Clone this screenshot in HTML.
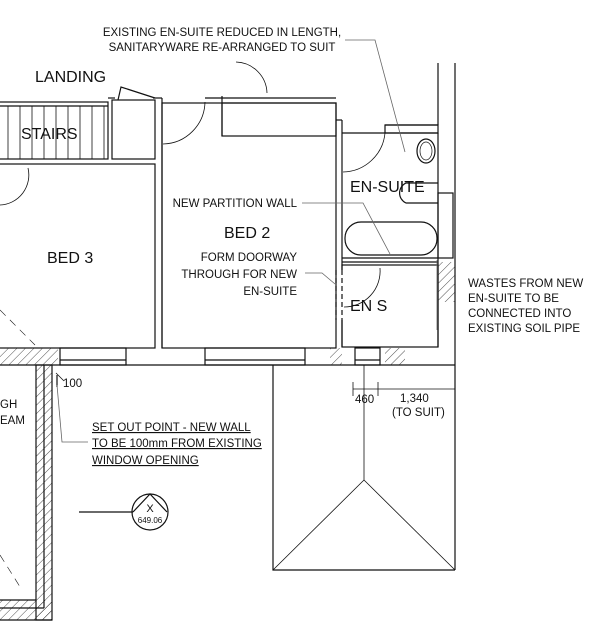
<!DOCTYPE html>
<html><head><style>body{margin:0;background:#fff}svg{display:block}text{font-family:"Liberation Sans",sans-serif;fill:#111}</style></head><body>
<svg width="616" height="631" viewBox="0 0 616 631" xmlns="http://www.w3.org/2000/svg">
<defs><pattern id="h" width="6" height="6" patternUnits="userSpaceOnUse" patternTransform="rotate(45)"><line x1="0" y1="0" x2="0" y2="6" stroke="#222" stroke-width="0.8"/></pattern></defs>
<g fill="none" stroke="#111" stroke-width="1.2">
<!-- main wall -->
<line x1="0" y1="365" x2="455" y2="365"/>
<line x1="455" y1="63" x2="455" y2="570"/>
<line x1="438" y1="63" x2="438" y2="125"/>
<!-- stairs -->
<rect x="-2" y="102" width="110" height="57"/>
<line x1="-2" y1="106" x2="108" y2="106"/>
<g stroke-width="0.8"><line x1="8" y1="106" x2="8" y2="159"/><line x1="20" y1="106" x2="20" y2="159"/><line x1="32" y1="106" x2="32" y2="159"/><line x1="44" y1="106" x2="44" y2="159"/><line x1="56" y1="106" x2="56" y2="159"/><line x1="68" y1="106" x2="68" y2="159"/><line x1="80" y1="106" x2="80" y2="159"/><line x1="92" y1="106" x2="92" y2="159"/><line x1="104" y1="106" x2="104" y2="159"/></g>
<!-- cupboard -->
<rect x="112" y="100" width="43" height="59"/>
<line x1="108" y1="98" x2="115" y2="98"/><line x1="153" y1="98" x2="162" y2="98"/>
<path d="M118 100 L121 87 L155 98"/>
<!-- bed3 -->
<rect x="-2" y="164" width="157" height="184"/>
<path d="M0 205 A30 30 0 0 0 28 168" stroke-width="0.8"/>
<line x1="0" y1="310" x2="35" y2="345" stroke-width="0.6" stroke-dasharray="8 6"/>
<!-- bed2 -->
<line x1="162" y1="98" x2="162" y2="348"/>
<rect x="162" y="103" width="174" height="245"/>
<line x1="205" y1="98" x2="336" y2="98"/>
<rect x="222" y="103" width="114" height="33"/>
<line x1="222" y1="96" x2="222" y2="136"/>
<path d="M163 144 A43 43 0 0 0 205 102" stroke-width="0.8"/>
<path d="M267 93 A32 32 0 0 0 236 62" stroke-width="0.8"/>
<!-- en-suite -->
<line x1="342" y1="120" x2="342" y2="347"/>
<line x1="336" y1="120" x2="342" y2="120"/>
<line x1="385" y1="125" x2="438" y2="125"/>
<rect x="385" y="125" width="53" height="8"/>
<line x1="342" y1="133" x2="438" y2="133"/>
<line x1="438" y1="133" x2="438" y2="347"/>
<path d="M343 172 A43 43 0 0 0 385 133" stroke-width="0.8"/>
<ellipse cx="426" cy="151" rx="9" ry="12"/><ellipse cx="426" cy="151" rx="6" ry="9" stroke-width="0.7"/>
<path d="M438 183 L406 183 A11 11 0 0 0 406 203 L438 203"/>
<rect x="438" y="193" width="15" height="65"/>
<rect x="345" y="222" width="92" height="33" rx="16"/>
<line x1="342" y1="258" x2="438" y2="258"/><line x1="342" y1="262" x2="438" y2="262"/>
<rect x="342" y="265" width="96" height="82"/>
<path d="M344 307 A36 36 0 0 0 380 268" stroke-width="0.8"/>
<line x1="336" y1="270" x2="336" y2="320" stroke-dasharray="5 3"/>
<line x1="342" y1="270" x2="342" y2="320" stroke="#fff" stroke-width="2"/>
<line x1="342" y1="270" x2="342" y2="320" stroke-dasharray="5 3"/>
<!-- windows -->
<rect x="60" y="348" width="66" height="17"/><line x1="60" y1="360" x2="126" y2="360"/>
<rect x="205" y="348" width="100" height="17"/><line x1="205" y1="360" x2="305" y2="360"/>
<rect x="355" y="348" width="25" height="17"/><line x1="355" y1="360" x2="380" y2="360"/>
<rect x="0" y="348" width="58" height="17" fill="url(#h)" stroke="none"/>
<rect x="330" y="348" width="12" height="17" fill="url(#h)" stroke="none"/>
<rect x="438" y="262" width="17" height="40" fill="url(#h)" stroke="none"/>
<rect x="385" y="348" width="20" height="17" fill="url(#h)" stroke="none"/>
<!-- left L wall -->
<rect x="36" y="365" width="16" height="255" fill="url(#h)"/>
<rect x="0" y="600" width="52" height="20" fill="url(#h)" stroke="none"/>
<line x1="0" y1="620" x2="52" y2="620"/><line x1="0" y1="600" x2="36" y2="600"/>
<line x1="44" y1="365" x2="44" y2="608"/><line x1="0" y1="608" x2="44" y2="608"/>
<line x1="0" y1="555" x2="22" y2="590" stroke-width="0.6" stroke-dasharray="8 6"/>
<!-- roof -->
<path d="M273 365 L273 570 L455 570"/>
<line x1="273" y1="570" x2="364" y2="480" stroke-width="0.8"/>
<line x1="455" y1="570" x2="364" y2="480" stroke-width="0.8"/>
<line x1="364" y1="365" x2="364" y2="480" stroke-width="0.8"/>
<!-- dims -->
<line x1="353" y1="389" x2="455" y2="389" stroke-width="0.8"/>
<line x1="353" y1="382" x2="353" y2="396" stroke-width="0.8"/><line x1="378" y1="382" x2="378" y2="396" stroke-width="0.8"/>
<line x1="56" y1="373" x2="64" y2="381" stroke-width="0.8"/><line x1="57" y1="375" x2="57" y2="387"/>
<!-- section marker -->
<line x1="79" y1="512" x2="133" y2="512"/>
<circle cx="150" cy="512" r="18"/>
<path d="M133 512 L150 494 L167 512"/>
</g>
<!-- leaders -->
<g fill="none" stroke="#666" stroke-width="0.8">
<path d="M345 40 L375 40 L405 152"/>
<path d="M302 203 L363 203 L390 254"/>
<path d="M305 273 L322 273 L335 284"/>
<path d="M57 385 L62 442 L88 442"/>
<line x1="437" y1="260" x2="437" y2="330"/>
</g>
<g font-size="11.5">
<text x="222" y="36" text-anchor="middle">EXISTING EN-SUITE REDUCED IN LENGTH,</text>
<text x="222" y="51" text-anchor="middle">SANITARYWARE RE-ARRANGED TO SUIT</text>
<text x="297" y="207" text-anchor="end">NEW PARTITION WALL</text>
<text x="297" y="261" text-anchor="end">FORM DOORWAY</text>
<text x="297" y="278" text-anchor="end">THROUGH FOR NEW</text>
<text x="297" y="295" text-anchor="end">EN-SUITE</text>
<text x="468" y="287">WASTES FROM NEW</text>
<text x="468" y="302">EN-SUITE TO BE</text>
<text x="468" y="317">CONNECTED INTO</text>
<text x="468" y="332">EXISTING SOIL PIPE</text>
<text x="92" y="431" text-decoration="underline">SET OUT POINT - NEW WALL</text>
<text x="92" y="447" text-decoration="underline">TO BE 100mm FROM EXISTING</text>
<text x="92" y="464" text-decoration="underline">WINDOW OPENING</text>
<text x="63" y="387">100</text>
<text x="355" y="403">460</text>
<text x="400" y="402">1,340</text>
<text x="392" y="416">(TO SUIT)</text>
<text x="0" y="408">GH</text>
<text x="0" y="424">EAM</text>
</g>
<g font-size="16">
<text x="35" y="82">LANDING</text>
<text x="21" y="139">STAIRS</text>
<text x="47" y="263">BED 3</text>
<text x="224" y="238">BED 2</text>
<text x="350" y="192">EN-SUITE</text>
<text x="350" y="311">EN S</text>
</g>
<text x="150" y="512" font-size="11" text-anchor="middle">X</text>
<text x="150" y="523" font-size="8" text-anchor="middle">649.06</text>
</svg>
</body></html>
